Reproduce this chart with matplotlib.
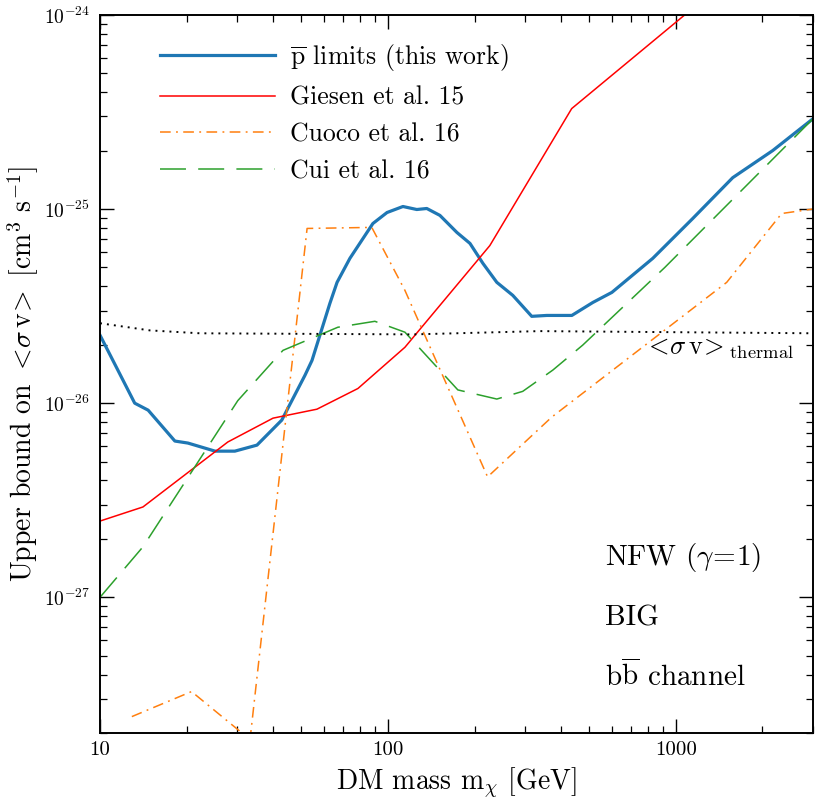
import numpy as np
import matplotlib
matplotlib.use('Agg')
import matplotlib.pyplot as plt
from matplotlib import ticker

plt.rcParams['font.family'] = ['cmr10']
plt.rcParams['mathtext.fontset'] = 'cm'
plt.rcParams['axes.unicode_minus'] = False
plt.rcParams['axes.formatter.use_mathtext'] = True

# ---------------------------------------------
# data (mass in GeV, <sigma v> in cm^3/s)
pbar_mass = [10, 13.2, 14.7, 18.2, 20.2, 25.1, 29.4, 35.1, 42.8, 51.5, 54.5, 62.9, 66.6,
             73.8, 88.7, 99.3, 112.8, 126, 136.5, 151.6, 173.7, 192.8, 213.8, 239,
             271.6, 316, 356.5, 435.5, 515, 600, 832, 1145, 1577, 2172, 3000]
pbar_sv = [2.24e-26, 1.0e-26, 9.2e-27, 6.38e-27, 6.23e-27, 5.66e-27, 5.66e-27, 6.08e-27,
           8.18e-27, 1.39e-26, 1.66e-26, 3.27e-26, 4.19e-26, 5.57e-26, 8.42e-26, 9.59e-26,
           1.03e-25, 9.94e-26, 1.006e-25, 9.27e-26, 7.57e-26, 6.65e-26, 5.25e-26, 4.19e-26,
           3.59e-26, 2.80e-26, 2.83e-26, 2.83e-26, 3.30e-26, 3.72e-26, 5.57e-26, 8.93e-26,
           1.45e-25, 2.00e-25, 2.92e-25]

giesen_mass = [10, 14.1, 27.8, 39.9, 56.7, 78.7, 114.6, 226, 435, 1075, 3000]
giesen_sv = [2.47e-27, 2.92e-27, 6.31e-27, 8.37e-27, 9.31e-27, 1.19e-26, 1.94e-26,
             6.48e-26, 3.29e-25, 1.0e-24, 3.5e-24]

cuoco_mass = [12.9, 20.8, 33.2, 52.4, 87.9, 114.6, 222, 370.6, 1503, 2333, 3000]
cuoco_sv = [2.43e-28, 3.27e-28, 1.85e-28, 7.94e-26, 8.04e-26, 3.81e-26, 4.17e-27,
            8.47e-27, 4.19e-26, 9.48e-26, 1.0e-25]

cui_mass = [10, 14.1, 30.1, 43.2, 67.0, 90.1, 114.6, 175, 239, 294, 374, 475, 916, 3000]
cui_sv = [1.0e-27, 1.82e-27, 1.03e-26, 1.87e-26, 2.46e-26, 2.64e-26, 2.32e-26, 1.17e-26,
          1.05e-26, 1.15e-26, 1.48e-26, 1.99e-26, 5.0e-26, 2.92e-25]

thermal_mass = [10, 14.9, 22.2, 122, 337, 3000]
thermal_sv = [2.58e-26, 2.37e-26, 2.29e-26, 2.26e-26, 2.35e-26, 2.29e-26]

x_major = [10, 100, 1000]
y_major = [1e-27, 1e-26, 1e-25, 1e-24]

# ---------------------------------------------
fig = plt.figure(figsize=(8.15, 8.02), dpi=100)
ax = fig.add_axes([0.1227, 0.086, 0.875, 0.8955])

ax.plot(pbar_mass, pbar_sv, color='#1f77b4', lw=2.3, label=r'$\overline{\rm p}$ limits (this work)')
ax.plot(giesen_mass, giesen_sv, color='#ff0000', lw=1.1, label='Giesen et al. 15')
ax.plot(cuoco_mass, cuoco_sv, color='#ff7f0e', lw=1.1, dashes=(7, 3.5, 1.2, 3.5), label='Cuoco et al. 16')
ax.plot(cui_mass, cui_sv, color='#2ca02c', lw=1.1, dashes=(17, 8), label='Cui et al. 16')
ax.plot(thermal_mass, thermal_sv, color='black', lw=1.4, dashes=(1, 2.6))

ax.set_xscale('log')
ax.set_yscale('log')
ax.set_xlim(10, 3000)
ax.set_ylim(2e-28, 1e-24)
ax.set_xticks(x_major)
ax.set_yticks(y_major)

ax.xaxis.set_major_formatter(ticker.FormatStrFormatter('%d'))
ax.xaxis.set_minor_formatter(ticker.NullFormatter())
ax.yaxis.set_minor_formatter(ticker.NullFormatter())
ax.tick_params(which='both', direction='in', top=True, right=True)
ax.tick_params(which='major', length=10, width=1.0)
ax.tick_params(which='minor', length=5, width=0.9)
ax.tick_params(axis='y', which='major', labelsize=14, pad=7)
ax.tick_params(axis='x', which='major', labelsize=15, pad=6)
for s in ax.spines.values():
    s.set_linewidth(1.4)

ax.set_xlabel(r'DM mass m$_\chi$ [GeV]', fontsize=20, labelpad=5)
ax.set_ylabel(r'Upper bound on $<\!\sigma\,{\rm v}\!>$ [cm$^3$ s$^{-1}$]', fontsize=20, labelpad=2)

ax.text(775, 1.9e-26, r'$<\!\sigma\,{\rm v}\!>_{\rm thermal}$', fontsize=19, ha='left', va='center')

ax.text(0.708, 0.245, r'NFW ($\gamma\!=\!1$)', transform=ax.transAxes, fontsize=21, va='center')
ax.text(0.708, 0.160, 'BIG', transform=ax.transAxes, fontsize=21, va='center')
ax.text(0.708, 0.080, r'b$\overline{\rm b}$ channel', transform=ax.transAxes, fontsize=21, va='center')

ax.legend(loc='upper left', bbox_to_anchor=(0.052, 0.994), frameon=False, fontsize=18.5,
          handlelength=4.45, handletextpad=0.6, labelspacing=0.5)

plt.savefig('out.png', dpi=100)
